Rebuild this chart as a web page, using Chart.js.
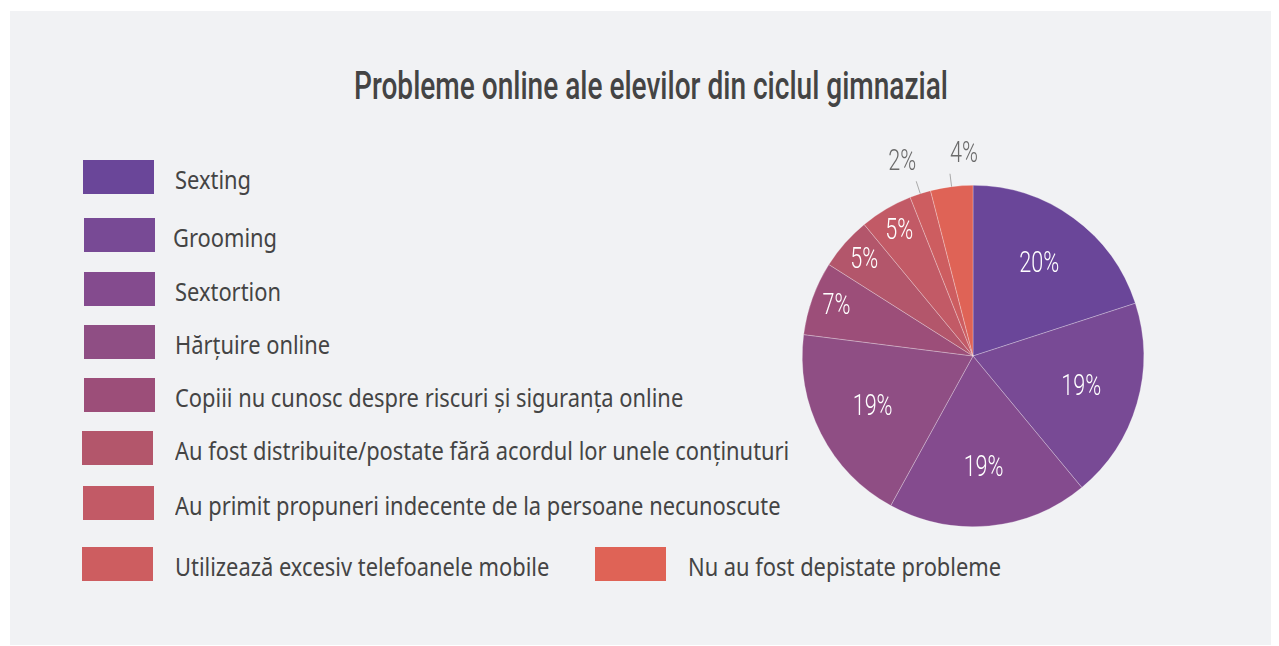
<!DOCTYPE html>
<html>
<head>
<meta charset="utf-8">
<script src="https://cdn.jsdelivr.net/npm/chart.js@4/dist/chart.umd.min.js"></script>
<style>
  body { margin: 0; background: #ffffff; width: 1279px; height: 646px; overflow: hidden; }
  #panel { position: absolute; left: 10px; top: 11px; width: 1261px; height: 634px; background: #f1f2f4; }
  #title { position: absolute; left: 651px; top: 67px; width: 0; }
  #title span { position: absolute; left: 0; top: 0; white-space: nowrap;
           font-family: Roboto, sans-serif; font-weight: 500;
           font-size: 38px; line-height: 38px; color: #444; transform-origin: 0 0; }
  #legend .box { position: absolute; width: 71px; height: 34px; }
  #legend .txt { position: absolute; font-family: "Noto Sans", sans-serif; font-size: 25px; color: #444;
                 white-space: nowrap; line-height: 34px; transform: scaleX(0.875); transform-origin: 0 50%; }
  #pieWrap { position: absolute; left: 742px; top: 125px; width: 462px; height: 462px; }
</style>
</head>
<body>
<div id="panel"></div>
<div id="title"><span>Probleme online ale elevilor din ciclul gimnazial</span></div>
<div id="legend"></div>
<div id="pieWrap"><canvas id="pie"></canvas></div>
<script>
const categories = [
  'Sexting',
  'Grooming',
  'Sextortion',
  'Hărțuire online',
  'Copiii nu cunosc despre riscuri și siguranța online',
  'Au fost distribuite/postate fără acordul lor unele conținuturi',
  'Au primit propuneri indecente de la persoane necunoscute',
  'Utilizează excesiv telefoanele mobile',
  'Nu au fost depistate probleme'
];
const shares = [20, 19, 19, 19, 7, 5, 5, 2, 4];
const sliceColors = ['#6a4699', '#784a95', '#844b8e', '#8f4e84', '#9c4e79', '#b3566b', '#c25a66', '#cd5d60', '#df6356'];

// squeeze the title into a condensed look, centred on x=651
const titleSpan = document.querySelector('#title span');
const tw = titleSpan.getBoundingClientRect().width;
const sx = 594 / tw;
titleSpan.style.transform = 'translateX(' + (-297) + 'px) scaleX(' + sx + ')';

// legend layout (box left, box top, text left)
const legendPos = [
  [83, 160, 175], [84, 218, 173], [84, 272, 175], [84, 325, 175], [84, 378, 175],
  [82, 431, 175], [83, 486, 175], [82, 547, 175], [595, 547, 688]
];
const legend = document.getElementById('legend');
categories.forEach(function(name, i) {
  const p = legendPos[i];
  const b = document.createElement('div');
  b.className = 'box';
  b.style.left = p[0] + 'px';
  b.style.top = p[1] + 'px';
  b.style.background = sliceColors[i];
  legend.appendChild(b);
  const t = document.createElement('div');
  t.className = 'txt';
  t.style.left = p[2] + 'px';
  t.style.top = (p[1] + 2) + 'px';
  t.textContent = name;
  legend.appendChild(t);
});

function condensedText(ctx, text, x, y, align) {
  ctx.save();
  ctx.translate(x, y);
  ctx.scale(0.72, 1);
  ctx.textAlign = align;
  ctx.fillText(text, 0, 0);
  ctx.restore();
}

const sliceLabels = {
  id: 'sliceLabels',
  afterDatasetsDraw(chart) {
    const ctx = chart.ctx;
    const meta = chart.getDatasetMeta(0);
    ctx.save();
    ctx.font = '300 30px Roboto, sans-serif';
    ctx.textBaseline = 'middle';
    let outside = 0;
    meta.data.forEach(function(arc, i) {
      const p = arc.getProps(['x', 'y', 'startAngle', 'endAngle', 'outerRadius'], true);
      const mid = (p.startAngle + p.endAngle) / 2;
      const v = shares[i];
      const c = Math.cos(mid), s = Math.sin(mid);
      if (v >= 10) {
        const r = p.outerRadius * 0.66;
        ctx.fillStyle = '#ffffff';
        condensedText(ctx, v + '%', p.x + c * r, p.y + s * r, 'center');
      } else if (v >= 5) {
        const r = p.outerRadius * 0.85;
        ctx.fillStyle = '#ffffff';
        condensedText(ctx, v + '%', p.x + c * r, p.y + s * r, 'center');
      } else {
        const r0 = p.outerRadius, r1 = p.outerRadius + 13;
        const ex = p.x + c * r1, ey = p.y + s * r1;
        ctx.strokeStyle = '#a9a9a9';
        ctx.lineWidth = 1;
        ctx.beginPath();
        ctx.moveTo(p.x + c * r0, p.y + s * r0);
        ctx.lineTo(ex, ey);
        ctx.stroke();
        ctx.fillStyle = '#6b6b6b';
        condensedText(ctx, v + '%', ex, ey - 19, outside === 0 ? 'right' : 'left');
        outside++;
      }
    });
    ctx.restore();
  }
};

new Chart(document.getElementById('pie'), {
  type: 'pie',
  data: {
    labels: categories,
    datasets: [{
      data: shares,
      backgroundColor: sliceColors,
      borderColor: 'rgba(255,255,255,0.45)',
      borderWidth: 0.6
    }]
  },
  options: {
    responsive: true,
    maintainAspectRatio: false,
    animation: false,
    layout: { padding: 60 },
    plugins: {
      legend: { display: false },
      tooltip: { enabled: false }
    }
  },
  plugins: [sliceLabels]
});
</script>
</body>
</html>
